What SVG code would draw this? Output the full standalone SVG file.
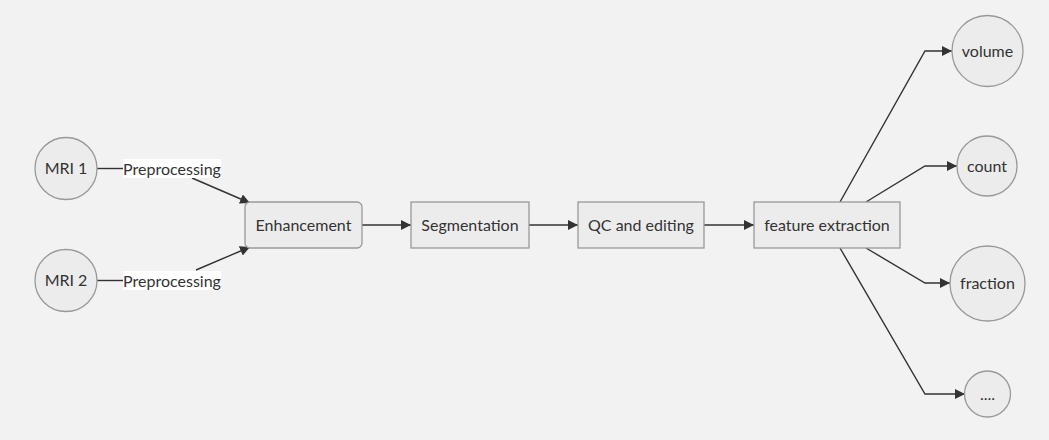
<svg xmlns="http://www.w3.org/2000/svg" width="1049" height="440" viewBox="0 0 1049 440">
<defs>
<marker id="arr" viewBox="0 0 10 10" refX="10" refY="5" markerWidth="10" markerHeight="10" markerUnits="userSpaceOnUse" orient="auto">
<path d="M0,0 L10,5 L0,10 z" fill="#333"/>
</marker>
<style>
.node{fill:#ececec;stroke:#999;stroke-width:1.3}
.t{font-family:Lato,"Liberation Sans",sans-serif;font-size:16px;fill:#333;text-anchor:middle;dominant-baseline:central}
.e{fill:none;stroke:#333;stroke-width:1.4}
.lbl{fill:#fff}
</style>
</defs>
<rect width="1049" height="440" fill="#f2f2f2"/>
<g id="connectors">
<path class="e" d="M97,168.5 L123,168.5"/>
<path class="e" d="M192,178 L250,203" marker-end="url(#arr)"/>
<path class="e" d="M97,280.5 L123,280.5"/>
<path class="e" d="M196,270 L250,247" marker-end="url(#arr)"/>
<path class="e" d="M362,225 L411,225" marker-end="url(#arr)"/>
<path class="e" d="M529,225 L578,225" marker-end="url(#arr)"/>
<path class="e" d="M704,225 L754,225" marker-end="url(#arr)"/>
<path class="e" d="M840,202 L925,51 L952,51" marker-end="url(#arr)"/>
<path class="e" d="M866,202 L925,166 L957,166" marker-end="url(#arr)"/>
<path class="e" d="M866,248 L925,283 L950,283" marker-end="url(#arr)"/>
<path class="e" d="M840,248 L925,394 L965,394" marker-end="url(#arr)"/>
<g id="label1"><rect class="lbl" x="123" y="159" width="98" height="19"/><text class="t" x="172" y="168">Preprocessing</text></g>
<g id="label2"><rect class="lbl" x="123" y="271" width="98" height="19"/><text class="t" x="172" y="280">Preprocessing</text></g>
</g>
<g id="mri1"><circle class="node" cx="66" cy="168.5" r="31"/><text class="t" x="66" y="167.5">MRI 1</text></g>
<g id="mri2"><circle class="node" cx="66" cy="280.5" r="31"/><text class="t" x="66" y="279.5">MRI 2</text></g>
<g id="enhancement"><rect class="node" x="245" y="202" width="117" height="46" rx="5"/><text class="t" x="303.5" y="224">Enhancement</text></g>
<g id="segmentation"><rect class="node" x="411" y="202" width="118" height="46"/><text class="t" x="470" y="224">Segmentation</text></g>
<g id="qc"><rect class="node" x="578" y="202" width="126" height="46"/><text class="t" x="641" y="224">QC and editing</text></g>
<g id="feature"><rect class="node" x="754" y="202" width="146" height="46"/><text class="t" x="827" y="224">feature extraction</text></g>
<g id="volume"><circle class="node" cx="987.5" cy="51" r="35.5"/><text class="t" x="987.5" y="50">volume</text></g>
<g id="count"><circle class="node" cx="987" cy="166" r="30"/><text class="t" x="987" y="165">count</text></g>
<g id="fraction"><circle class="node" cx="987.5" cy="283.5" r="37.5"/><text class="t" x="987.5" y="282.5">fraction</text></g>
<g id="more"><circle class="node" cx="987.5" cy="394" r="23"/><text class="t" x="987.5" y="393">....</text></g>
</svg>
